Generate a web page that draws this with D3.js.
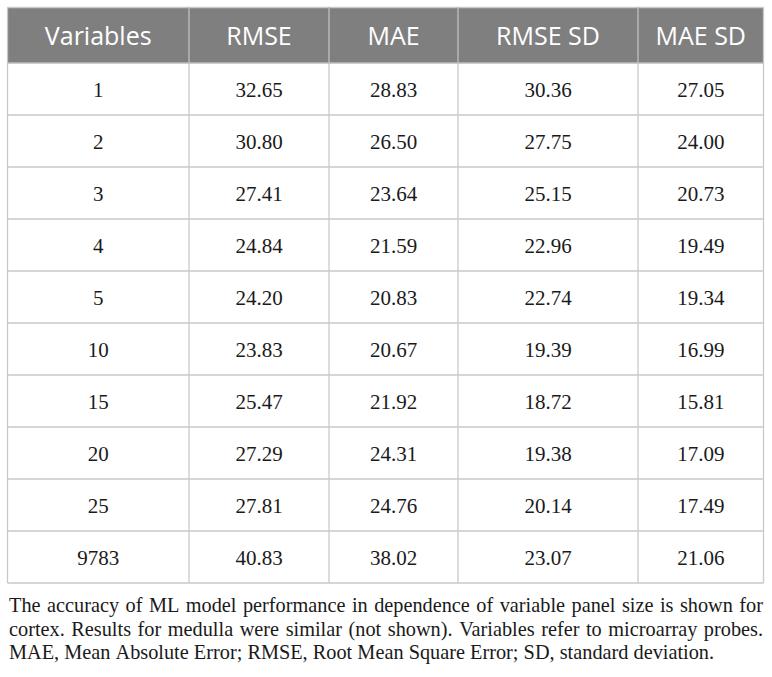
<!DOCTYPE html>
<html>
<head>
<meta charset="utf-8">
<script src="https://cdn.jsdelivr.net/npm/d3@7"></script>
<style>
  body { margin: 0; background: #fff; }
  svg { display: block; }
</style>
</head>
<body>
<div id="table"></div>
<script>
// Table contents
const headers = ['Variables', 'RMSE', 'MAE', 'RMSE SD', 'MAE SD'];
const variables = ['1', '2', '3', '4', '5', '10', '15', '20', '25', '9783'];
const rmse   = ['32.65', '30.80', '27.41', '24.84', '24.20', '23.83', '25.47', '27.29', '27.81', '40.83'];
const mae    = ['28.83', '26.50', '23.64', '21.59', '20.83', '20.67', '21.92', '24.31', '24.76', '38.02'];
const rmseSd = ['30.36', '27.75', '25.15', '22.96', '22.74', '19.39', '18.72', '19.38', '20.14', '23.07'];
const maeSd  = ['27.05', '24.00', '20.73', '19.49', '19.34', '16.99', '15.81', '17.09', '17.49', '21.06'];
const footnote = [
  'The accuracy of ML model performance in dependence of variable panel size is shown for',
  'cortex. Results for medulla were similar (not shown). Variables refer to microarray probes.',
  'MAE, Mean Absolute Error; RMSE, Root Mean Square Error; SD, standard deviation.'
];

const width = 772, height = 677;
const colEdges = [7.5, 189, 329, 458, 638, 763.5];
const headerTop = 7.5, headerBottom = 63;
const tableBottom = 583;

const svg = d3.select('#table').append('svg')
  .attr('width', width)
  .attr('height', height);

const columns = [variables, rmse, mae, rmseSd, maeSd];
const rows = variables.map((v, i) => columns.map(c => c[i]));

// Column centres and row band scale
const xCenter = d3.scaleOrdinal()
  .domain(d3.range(headers.length))
  .range(d3.range(headers.length).map(i => (colEdges[i] + colEdges[i + 1]) / 2));
const y = d3.scaleBand()
  .domain(d3.range(rows.length))
  .range([headerBottom, tableBottom]);

// Header background
svg.append('rect')
  .attr('x', colEdges[0])
  .attr('y', headerTop)
  .attr('width', colEdges[colEdges.length - 1] - colEdges[0])
  .attr('height', headerBottom - headerTop)
  .attr('fill', '#7f7f7f');

// Grid lines
const grid = svg.append('g').attr('class', 'grid');
grid.selectAll('.hline')
  .data(d3.range(rows.length + 1))
  .join('line')
  .attr('class', 'hline')
  .attr('x1', colEdges[0]).attr('x2', colEdges[colEdges.length - 1])
  .attr('y1', d => d === 0 ? headerTop : y(d - 1) + y.bandwidth())
  .attr('y2', d => d === 0 ? headerTop : y(d - 1) + y.bandwidth())
  .attr('stroke', '#c9c9c9')
  .attr('stroke-width', 1.3);
grid.selectAll('.vline')
  .data(colEdges)
  .join('line')
  .attr('class', 'vline')
  .attr('x1', d => d).attr('x2', d => d)
  .attr('y1', headerTop).attr('y2', tableBottom)
  .attr('stroke', '#c9c9c9')
  .attr('stroke-width', 1.3);
// lighter separators inside header
grid.selectAll('.hsep')
  .data(colEdges.slice(1, -1))
  .join('line')
  .attr('class', 'hsep')
  .attr('x1', d => d).attr('x2', d => d)
  .attr('y1', headerTop).attr('y2', headerBottom)
  .attr('stroke', '#a6a6a6')
  .attr('stroke-width', 1.3);
grid.append('line')
  .attr('x1', colEdges[0]).attr('x2', colEdges[colEdges.length - 1])
  .attr('y1', headerBottom).attr('y2', headerBottom)
  .attr('stroke', '#bdbdbd')
  .attr('stroke-width', 1.3);

// Header labels
svg.append('g').selectAll('text')
  .data(headers)
  .join('text')
  .attr('x', (d, i) => xCenter(i))
  .attr('y', (headerTop + headerBottom) / 2)
  .attr('dy', '0.38em')
  .attr('text-anchor', 'middle')
  .attr('fill', '#ffffff')
  .attr('font-family', '"Open Sans", sans-serif')
  .attr('font-size', '25px')
  .text(d => d);

// Body cells
const body = svg.append('g').attr('class', 'body');
rows.forEach((row, r) => {
  body.selectAll(`.cell-${r}`)
    .data(row)
    .join('text')
    .attr('class', `cell-${r}`)
    .attr('x', (d, i) => xCenter(i))
    .attr('y', y(r) + y.bandwidth() / 2)
    .attr('dy', '0.4em')
    .attr('text-anchor', 'middle')
    .attr('fill', '#1a1a1a')
    .attr('font-family', '"Liberation Serif", "Times New Roman", serif')
    .attr('font-size', '21px')
    .text(d => d);
});

// Footnote, justified like the original
const noteLeft = 9, noteRight = 763;
const noteBaselines = [612, 636, 659];
const note = svg.append('g').attr('class', 'footnote')
  .attr('font-family', '"Liberation Serif", "Times New Roman", serif')
  .attr('font-size', '20.3px')
  .attr('fill', '#1a1a1a');

footnote.forEach((line, li) => {
  const words = line.split(' ');
  const texts = note.selectAll(`.w${li}`)
    .data(words)
    .join('text')
    .attr('class', `w${li}`)
    .attr('y', noteBaselines[li])
    .text(d => d);
  const widths = texts.nodes().map(n => n.getComputedTextLength());
  const total = d3.sum(widths);
  const last = li === footnote.length - 1;
  const gap = last ? 5.1 : (noteRight - noteLeft - total) / (words.length - 1);
  let x = noteLeft;
  texts.each(function(d, i) {
    d3.select(this).attr('x', x);
    x += widths[i] + gap;
  });
});
</script>
</body>
</html>
